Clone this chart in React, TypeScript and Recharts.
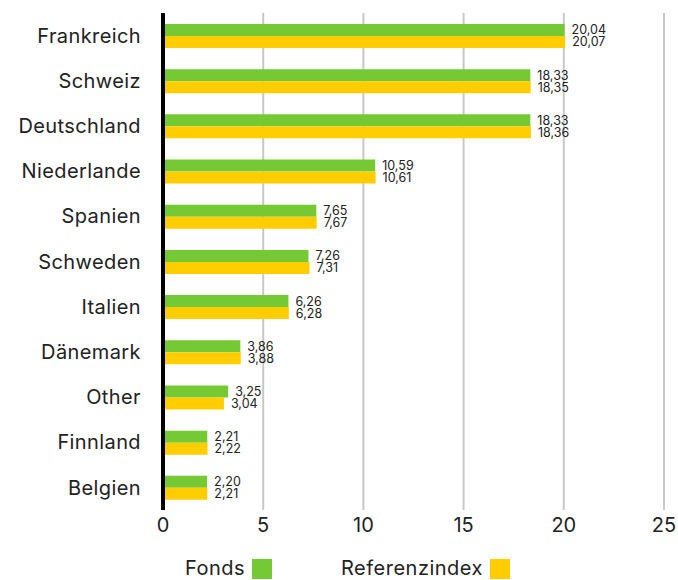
import React from "react";
import {
  BarChart,
  Bar,
  XAxis,
  YAxis,
  CartesianGrid,
  Legend,
  LabelList,
} from "recharts";

const countries = [
  "Frankreich",
  "Schweiz",
  "Deutschland",
  "Niederlande",
  "Spanien",
  "Schweden",
  "Italien",
  "Dänemark",
  "Other",
  "Finnland",
  "Belgien",
];
const fonds = [20.04, 18.33, 18.33, 10.59, 7.65, 7.26, 6.26, 3.86, 3.25, 2.21, 2.2];
const referenz = [20.07, 18.35, 18.36, 10.61, 7.67, 7.31, 6.28, 3.88, 3.04, 2.22, 2.21];
const xTicks = [0, 5, 10, 15, 20, 25];

const GREEN = "#74c935";
const YELLOW = "#ffcd00";
const FONT = "Inter, 'Open Sans', sans-serif";

const rows = countries.map((name, i) => ({
  name,
  fonds: fonds[i],
  referenz: referenz[i],
}));

function fmt(v: number) {
  return v.toFixed(2).replace(".", ",");
}

function LegendContent() {
  const items = [
    { label: "Fonds", color: GREEN, x: 185 },
    { label: "Referenzindex", color: YELLOW, x: 341 },
  ];
  return (
    <div style={{ position: "relative", height: 36, fontFamily: FONT }}>
      {items.map((it) => (
        <div
          key={it.label}
          style={{
            position: "absolute",
            left: it.x,
            top: 12,
            display: "flex",
            alignItems: "flex-end",
            fontSize: 20,
            letterSpacing: 0.5,
            color: "#222",
            lineHeight: "24px",
          }}
        >
          <span>{it.label}</span>
          <span
            style={{
              display: "inline-block",
              width: 20,
              height: 20,
              background: it.color,
              marginLeft: 7,
              marginBottom: 1,
            }}
          />
        </div>
      ))}
    </div>
  );
}

export default function App() {
  return (
    <div style={{ width: 678, height: 580, background: "#fff", overflow: "hidden" }}>
      <style>{"body{margin:0}"}</style>
      <BarChart
        width={678}
        height={580}
        data={rows}
        layout="vertical"
        margin={{ top: 13, right: 14, left: 0, bottom: 0 }}
        barSize={12}
        barGap={0}
      >
        <CartesianGrid horizontal={false} stroke="#c8c8c8" strokeWidth={2} />
        <XAxis
          type="number"
          domain={[0, 25]}
          ticks={xTicks}
          axisLine={false}
          tickLine={false}
          tick={{ fill: "#222", fontSize: 20, fontFamily: FONT }}
          height={34}
          tickMargin={2}
        />
        <YAxis
          type="category"
          dataKey="name"
          width={163}
          axisLine={{ stroke: "#000", strokeWidth: 4 }}
          tickLine={false}
          tick={{ fill: "#222", fontSize: 20, fontFamily: FONT, letterSpacing: 0.4 }}
          tickMargin={16}
        />
        <Legend verticalAlign="bottom" content={<LegendContent />} />
        <Bar dataKey="fonds" name="Fonds" fill={GREEN} isAnimationActive={false}>
          <LabelList
            dataKey="fonds"
            position="right"
            offset={7}
            formatter={fmt}
            style={{ fill: "#222", fontSize: 12.5, fontFamily: FONT }}
          />
        </Bar>
        <Bar dataKey="referenz" name="Referenzindex" fill={YELLOW} isAnimationActive={false}>
          <LabelList
            dataKey="referenz"
            position="right"
            offset={7}
            formatter={fmt}
            style={{ fill: "#222", fontSize: 12.5, fontFamily: FONT }}
          />
        </Bar>
      </BarChart>
    </div>
  );
}
